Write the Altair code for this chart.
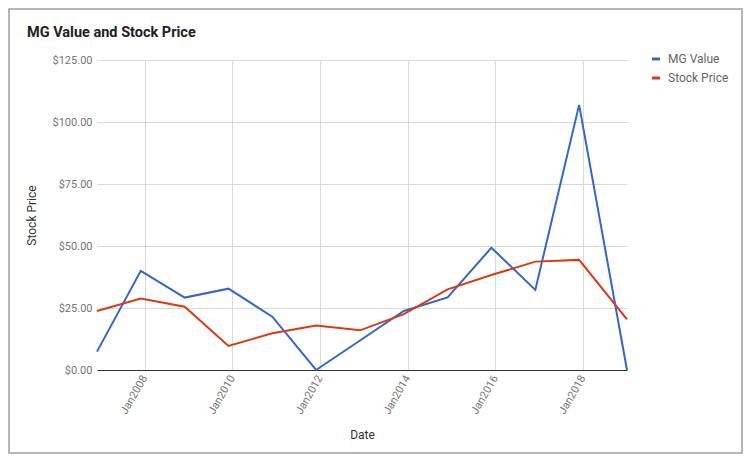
import altair as alt
import pandas as pd

# ---- data ----
dates = ["2006-12-01", "2007-12-01", "2008-12-01", "2009-12-01", "2010-12-01",
         "2011-12-01", "2012-12-01", "2013-12-01", "2014-12-01", "2015-12-01",
         "2016-12-01", "2017-12-01", "2019-01-04"]
mg_value = [7.4, 40.0, 29.2, 32.8, 21.5, 0.0, 11.9, 23.8, 29.3, 49.3, 32.3, 106.9, 0.0]
stock_price = [23.8, 28.8, 25.5, 9.7, 14.8, 17.9, 16.0, 22.5, 32.5, 38.3, 43.7, 44.4, 20.4]
series = ["MG Value", "Stock Price"]
colors = ["#3366CC", "#DC3912"]
y_ticks = [0, 25, 50, 75, 100, 125]
x_tick_years = [2008, 2010, 2012, 2014, 2016, 2018]
title_text = "MG Value and Stock Price"

df = pd.DataFrame({
    "Date": dates + dates,
    "Value": mg_value + stock_price,
    "Series": [series[0]] * len(dates) + [series[1]] * len(dates),
})

W, H = 530, 310

lines = alt.Chart(df).mark_line(strokeWidth=2).encode(
    x=alt.X("Date:T",
            title="Date",
            scale=alt.Scale(nice=False),
            axis=alt.Axis(values=[alt.DateTime(year=y, month=1, date=1) for y in x_tick_years],
                          format="%b%Y", labelAngle=300, labelAlign="right",
                          labelBaseline="middle", labelPadding=6, grid=True,
                          domain=True, domainColor="#333333", domainWidth=1,
                          ticks=False, titlePadding=14)),
    y=alt.Y("Value:Q",
            title="Stock Price",
            scale=alt.Scale(domain=[0, 125], nice=False),
            axis=alt.Axis(values=y_ticks, format="$,.2f", grid=True, domain=False,
                          ticks=False, labelPadding=5, titlePadding=14)),
    color=alt.Color("Series:N",
                    scale=alt.Scale(domain=series, range=colors),
                    legend=alt.Legend(title=None, orient="none", legendX=553, legendY=-7,
                                      symbolType="stroke", symbolSize=64,
                                      symbolStrokeWidth=3, labelFont="Roboto",
                                      labelFontSize=12, labelColor="#666666",
                                      labelOffset=6, rowPadding=7)),
)

title_layer = alt.Chart(pd.DataFrame({"t": [title_text]})).mark_text(
    align="left", baseline="alphabetic", font="Roboto", fontSize=14.5,
    fontWeight="bold", color="#212121"
).encode(x=alt.value(-70), y=alt.value(-23), text="t:N")

border = alt.Chart(pd.DataFrame({"b": [0]})).mark_rect(
    fill="transparent", stroke="#9e9e9e", strokeWidth=1.5
).encode(x=alt.value(-88), x2=alt.value(645), y=alt.value(-51), y2=alt.value(393))

chart = alt.layer(border, lines, title_layer).properties(
    width=W, height=H,
    autosize=alt.AutoSizeParams(type="none"),
    padding={"left": 89, "top": 52, "right": 117, "bottom": 84},
    background="white",
).configure_view(stroke=None).configure_axis(
    labelFont="Roboto", labelFontSize=11, labelColor="#757575",
    titleFont="Roboto", titleFontSize=12, titleFontWeight="normal",
    titleColor="#333333", gridColor="#d9d9d9", gridWidth=1,
)

chart.save("out.html", embed_options={"renderer": "svg", "actions": False})
